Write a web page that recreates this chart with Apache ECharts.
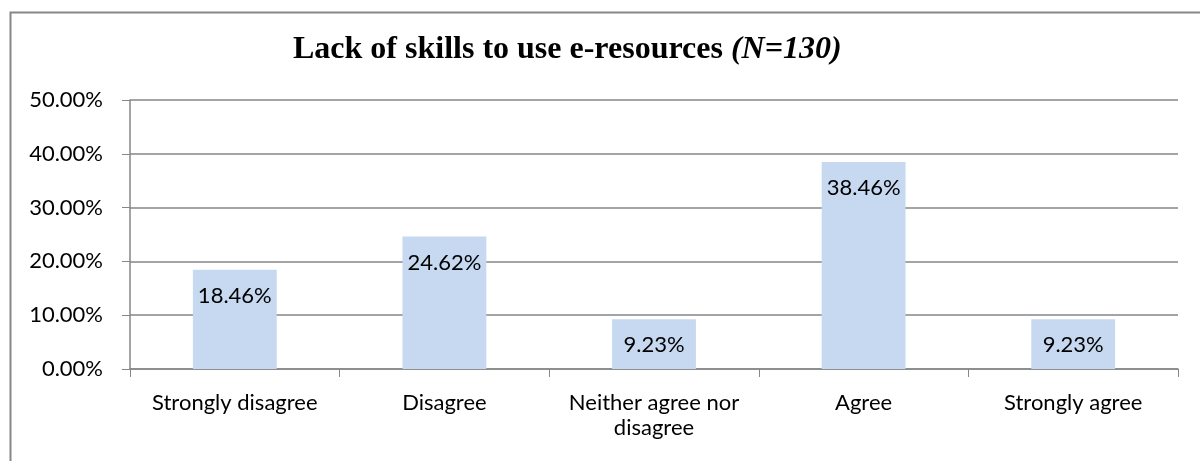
<!DOCTYPE html>
<html>
<head>
<meta charset="utf-8">
<script src="https://cdn.jsdelivr.net/npm/echarts@6/dist/echarts.min.js"></script>
<style>
  html, body { margin: 0; padding: 0; background: #fff; }
  #grafico { width: 1200px; height: 461px; }
</style>
</head>
<body>
<div id="grafico"></div>
<script>
// datos
const categorias = ['Strongly disagree', 'Disagree', 'Neither agree nor\ndisagree', 'Agree', 'Strongly agree'];
const valores = [18.46, 24.62, 9.23, 38.46, 9.23];
const ticksY = [0, 10, 20, 30, 40, 50];

const GRIS = '#868686', BARRA = '#c6d9f1';
const FUENTE = 'Lato, "Open Sans", sans-serif';

const chart = echarts.init(document.getElementById('grafico'), null, { renderer: 'canvas' });
chart.setOption({
  backgroundColor: '#fff',
  animation: false,
  title: {
    text: '{b|Lack of skills to use e-resources }{i|(N=130)}',
    left: 288, top: 29,
    textStyle: {
      rich: {
        b: { fontFamily: '"Liberation Serif", serif', fontWeight: 'bold', fontSize: 32, color: '#000' },
        i: { fontFamily: '"Liberation Serif", serif', fontWeight: 'bold', fontStyle: 'italic', fontSize: 32, color: '#000' }
      }
    }
  },
  // marco del gráfico (solo se ven el borde izquierdo y el superior)
  graphic: [{
    type: 'rect', left: 8, top: 10,
    shape: { width: 1300, height: 600 },
    style: { fill: 'none', stroke: GRIS, lineWidth: 2 }
  }],
  grid: { left: 130, right: 22, top: 100, bottom: 92 },
  xAxis: {
    type: 'category', data: categorias,
    axisLine: { lineStyle: { color: GRIS, width: 1.5 } },
    axisTick: { show: true, length: 8, interval: 0, lineStyle: { color: GRIS } },
    axisLabel: { interval: 0, color: '#000', fontSize: 22, fontFamily: FUENTE, margin: 21, lineHeight: 25 }
  },
  yAxis: {
    type: 'value', min: ticksY[0], max: ticksY[ticksY.length - 1], interval: 10,
    axisLine: { show: true, lineStyle: { color: GRIS, width: 1.5 } },
    axisTick: { show: true, length: 8, lineStyle: { color: GRIS } },
    splitLine: { lineStyle: { color: GRIS, width: 1.5 } },
    axisLabel: { color: '#000', fontSize: 22, fontFamily: FUENTE, margin: 27,
                 formatter: (v) => v.toFixed(2) + '%' }
  },
  series: [{
    type: 'bar', data: valores, barCategoryGap: '60%',
    itemStyle: { color: BARRA },
    label: { show: true, position: 'insideTop', distance: 15, color: '#000',
             fontSize: 22, fontFamily: FUENTE, formatter: (p) => p.value.toFixed(2) + '%' }
  }]
});
</script>
</body>
</html>
